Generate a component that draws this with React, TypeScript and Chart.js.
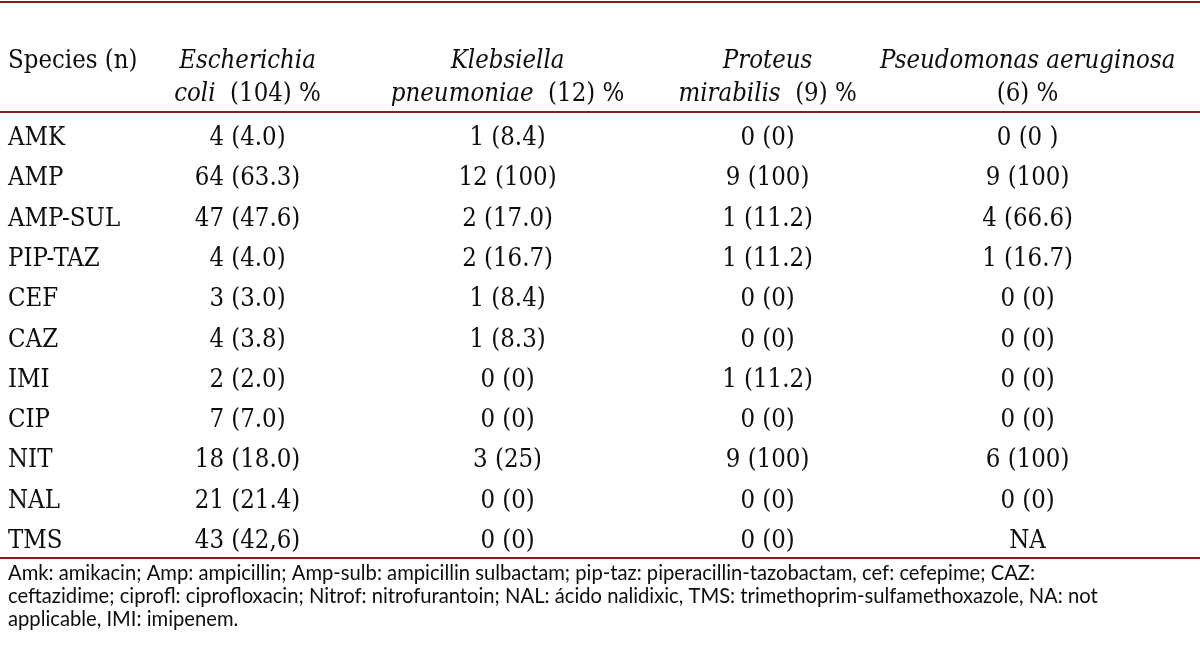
import React, { useEffect, useRef } from "react";
import { Chart, registerables } from "chart.js";

Chart.register(...registerables);

// ---------- data ----------
const ROW_LABELS = ["AMK", "AMP", "AMP-SUL", "PIP-TAZ", "CEF", "CAZ", "IMI", "CIP", "NIT", "NAL", "TMS"];

const ECOLI_N = [4, 64, 47, 4, 3, 4, 2, 7, 18, 21, 43];
const ECOLI_PCT = ["4.0", "63.3", "47.6", "4.0", "3.0", "3.8", "2.0", "7.0", "18.0", "21.4", "42,6"];

const KLEB_N = [1, 12, 2, 2, 1, 1, 0, 0, 3, 0, 0];
const KLEB_PCT = ["8.4", "100", "17.0", "16.7", "8.4", "8.3", "0", "0", "25", "0", "0"];

const PROT_N = [0, 9, 1, 1, 0, 0, 1, 0, 9, 0, 0];
const PROT_PCT = ["0", "100", "11.2", "11.2", "0", "0", "11.2", "0", "100", "0", "0"];

const PSEU_N: (number | null)[] = [0, 9, 4, 1, 0, 0, 0, 0, 6, 0, null];
const PSEU_PCT: (string | null)[] = ["0 ", "100", "66.6", "16.7", "0", "0", "0", "0", "100", "0", null];

const FIRST_HEADER = "Species (n)";
// header runs: [text, italic]
const HEADER_LINE1: [string, boolean][][] = [
  [["Escherichia", true]],
  [["Klebsiella", true]],
  [["Proteus", true]],
  [["Pseudomonas aeruginosa", true]],
];
const HEADER_LINE2: [string, boolean][][] = [
  [["coli", true], ["  (104) %", false]],
  [["pneumoniae", true], ["  (12) %", false]],
  [["mirabilis", true], ["  (9) %", false]],
  [["(6) %", false]],
];

const FOOTNOTE_LINES = [
  "Amk: amikacin; Amp: ampicillin; Amp-sulb: ampicillin sulbactam; pip-taz: piperacillin-tazobactam, cef: cefepime; CAZ:",
  "ceftazidime; ciprofl: ciprofloxacin; Nitrof: nitrofurantoin; NAL: ácido nalidixic, TMS: trimethoprim-sulfamethoxazole, NA: not",
  "applicable, IMI: imipenem.",
];

// ---------- styles ----------
const SERIF = "'DejaVu Serif Condensed', 'Liberation Serif', serif";
const SANS = "Lato, 'Liberation Sans', sans-serif";
const BODY_SIZE = 25.5;
const FOOT_SIZE = 20.2;
const RULE_COLOR = "#8e1b1b";
const TEXT_COLOR = "#0d0d0d";

function cellText(n: number | null, p: string | null): string {
  if (n === null || p === null) return "NA";
  return `${n} (${p})`;
}

const SERIES = [
  { n: ECOLI_N, p: ECOLI_PCT },
  { n: KLEB_N, p: KLEB_PCT },
  { n: PROT_N, p: PROT_PCT },
  { n: PSEU_N, p: PSEU_PCT },
];

const tablePlugin = {
  id: "tableText",
  afterDatasetsDraw(chart: any) {
    const ctx: CanvasRenderingContext2D = chart.ctx;
    const area = chart.chartArea;
    const xs = chart.scales.x;
    const ys = chart.scales.y;
    ctx.save();

    // rules
    ctx.strokeStyle = RULE_COLOR;
    ctx.lineWidth = 2;
    const rules = [2, area.top - 4, area.bottom - 1];
    rules.forEach((yy) => {
      ctx.beginPath();
      ctx.moveTo(0, yy);
      ctx.lineTo(chart.width, yy);
      ctx.stroke();
    });

    ctx.fillStyle = TEXT_COLOR;
    ctx.textBaseline = "alphabetic";
    const bodyFont = (it: boolean) => `${it ? "italic " : ""}${BODY_SIZE}px ${SERIF}`;

    // header
    const line1Y = area.top - 48;
    const line2Y = area.top - 15;
    ctx.textAlign = "left";
    ctx.font = bodyFont(false);
    ctx.fillText(FIRST_HEADER, 8, line1Y);

    const drawRuns = (runs: [string, boolean][], cx: number, y: number) => {
      let total = 0;
      const widths = runs.map(([t, it]) => {
        ctx.font = bodyFont(it);
        const w = ctx.measureText(t).width;
        total += w;
        return w;
      });
      let x = cx - total / 2;
      runs.forEach(([t, it], i) => {
        ctx.font = bodyFont(it);
        ctx.fillText(t, x, y);
        x += widths[i];
      });
    };
    HEADER_LINE1.forEach((runs, i) => drawRuns(runs, xs.getPixelForValue(i + 1), line1Y));
    HEADER_LINE2.forEach((runs, i) => drawRuns(runs, xs.getPixelForValue(i + 1), line2Y));

    // row labels
    ctx.font = bodyFont(false);
    ROW_LABELS.forEach((lab, i) => {
      ctx.fillText(lab, 8, ys.getPixelForValue(i) + 9);
    });

    // cells
    ctx.textAlign = "center";
    chart.data.datasets.forEach((ds: any, di: number) => {
      const meta = chart.getDatasetMeta(di);
      meta.data.forEach((el: any, j: number) => {
        ctx.fillText(ds.cellLabels[j], el.x, el.y + 9);
      });
    });

    // footnote
    ctx.textAlign = "left";
    ctx.font = `${FOOT_SIZE}px ${SANS}`;
    FOOTNOTE_LINES.forEach((line, i) => {
      ctx.fillText(line, 8, area.bottom + 21 + i * 23);
    });

    ctx.restore();
  },
};

export default function App() {
  const ref = useRef<HTMLCanvasElement>(null);
  useEffect(() => {
    if (!ref.current) return;
    const chart = new Chart(ref.current, {
      type: "scatter",
      data: {
        datasets: SERIES.map((s, si) => ({
          label: `s${si}`,
          data: ROW_LABELS.map((r) => ({ x: si + 1, y: r })) as any,
          cellLabels: s.n.map((n, j) => cellText(n, s.p[j])),
          pointRadius: 0,
          pointHoverRadius: 0,
        })) as any,
      },
      options: {
        animation: false,
        responsive: false,
        events: [],
        layout: { padding: { top: 116, bottom: 112, left: 0, right: 0 } },
        plugins: { legend: { display: false }, tooltip: { enabled: false } },
        scales: {
          x: { type: "linear", min: 0.048, max: 4.663, display: false },
          y: { type: "category", labels: ROW_LABELS, offset: true, display: false },
        },
      },
      plugins: [tablePlugin],
    });
    return () => chart.destroy();
  }, []);
  return (
    <div style={{ position: "absolute", left: 0, top: 0, width: 1200, height: 671, background: "#fff" }}>
      <canvas ref={ref} width={1200} height={671} />
    </div>
  );
}
